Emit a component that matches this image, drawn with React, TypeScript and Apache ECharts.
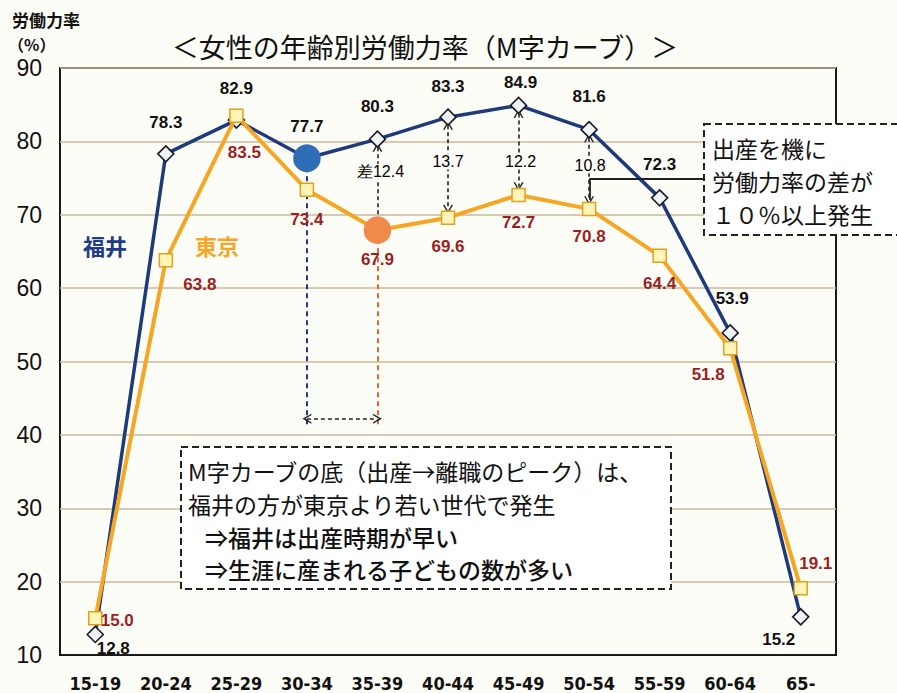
import React, { useEffect, useRef } from "react";
import * as echarts from "echarts";

// ---- data ----
const categories = ["15-19", "20-24", "25-29", "30-34", "35-39", "40-44", "45-49", "50-54", "55-59", "60-64", "65-"];
const fukui = [12.8, 78.3, 82.9, 77.7, 80.3, 83.3, 84.9, 81.6, 72.3, 53.9, 15.2];
const tokyo = [15.0, 63.8, 83.5, 73.4, 67.9, 69.6, 72.7, 70.8, 64.4, 51.8, 19.1];
const yMin = 10;
const yMax = 90;
const yInterval = 10;
const diffIndices = [4, 5, 6, 7];
const diffPrefix = ["差", "", "", ""];
const fukuiBottomIndex = 3;
const tokyoBottomIndex = 4;
const calloutLines = ["出産を機に", "労働力率の差が", "１０％以上発生"];

// ---- annotation geometry (style) ----
const dropEndValue = 41.1;
const gapArrowValue = 42.2;
const arrowGap = 1.1;
const fukuiLabelOffsets = [[18, 14], [0, -31], [0, -32], [0, -32], [0, -33], [0, -31], [2, -23], [0, -33], [0, -33], [2, -34], [-22, 23]];
const tokyoLabelOffsets = [[22, 2], [34, 24], [8, 37], [0, 30], [0, 29], [0, 29], [0, 28], [0, 28], [0, 28], [-22, 26], [15, -25]];
const diffLabelOffsets = [[3, -13], [0, -6], [2, 11], [1, -4]];

const BG = "#fdfdf7";
const NAVY = "#1f3a7a";
const ORANGE = "#f6a623";
const RED_LABEL = "#9c1f1f";
const CJK = '"Noto Sans CJK JP", sans-serif';
const LATIN = '"Liberation Sans", Arial, sans-serif';
const chevron = "path://M0,10 L5,0 L10,10 L8.4,10 L5,3.2 L1.6,10 Z";

export default function App() {
  const ref = useRef<HTMLDivElement>(null);
  useEffect(() => {
    if (!ref.current) return;
    const chart = echarts.init(ref.current, undefined, { renderer: "svg" });

    const fukuiData = fukui.map((v, i) => {
      const item: any = {
        value: v,
        label: { offset: fukuiLabelOffsets[i] },
      };
      if (i === fukuiBottomIndex) {
        item.symbol = "circle";
        item.symbolSize = 26;
        item.itemStyle = { color: "#2f6eb6", borderColor: "#2f6eb6" };
      }
      return item;
    });
    const tokyoData = tokyo.map((v, i) => {
      const item: any = {
        value: v,
        label: { offset: tokyoLabelOffsets[i] },
      };
      if (i === tokyoBottomIndex) {
        item.symbol = "circle";
        item.symbolSize = 26;
        item.itemStyle = { color: "#f08a4b", borderColor: "#f08a4b" };
      }
      return item;
    });

    const dashed = { type: [4, 3] as any, color: "#222", width: 1.6 };
    const diffLines = diffIndices.map((i) => [
      { coord: [categories[i], fukui[i] - arrowGap], lineStyle: dashed },
      { coord: [categories[i], tokyo[i] + arrowGap], lineStyle: dashed },
    ]);
    const navyDrop = { type: [5, 4] as any, color: NAVY, width: 2 };
    const orangeDrop = { type: [5, 4] as any, color: "#e0682c", width: 2 };
    const dropLines = [
      [
        { coord: [categories[fukuiBottomIndex], fukui[fukuiBottomIndex]], symbol: "none", lineStyle: navyDrop },
        { coord: [categories[fukuiBottomIndex], dropEndValue], symbol: "none", lineStyle: navyDrop },
      ],
      [
        { coord: [categories[tokyoBottomIndex], tokyo[tokyoBottomIndex]], symbol: "none", lineStyle: orangeDrop },
        { coord: [categories[tokyoBottomIndex], dropEndValue], symbol: "none", lineStyle: orangeDrop },
      ],
      [
        { coord: [categories[fukuiBottomIndex], gapArrowValue], lineStyle: dashed },
        { coord: [categories[tokyoBottomIndex], gapArrowValue], lineStyle: dashed },
      ],
    ];

    const diffData = diffIndices.map((i, k) => ({
      value: [categories[i], (fukui[i] + tokyo[i]) / 2],
      label: {
        offset: diffLabelOffsets[k],
        formatter: diffPrefix[k] + (fukui[i] - tokyo[i]).toFixed(1),
      },
    }));

    const text = (x: number, y: number, t: string, font: string, fill = "#111", align = "left") => ({
      type: "text",
      x,
      y,
      z: 100,
      style: {
        text: t,
        font,
        fill,
        align,
        textAlign: align,
        verticalAlign: "middle",
        textVerticalAlign: "middle",
      },
    });

    const fmt1 = (p: any) => Number(p.value).toFixed(1);

    chart.setOption({
      animation: false,
      backgroundColor: BG,
      grid: {
        left: 60,
        right: 61,
        top: 68,
        bottom: 38,
        show: true,
        borderColor: "#1a1a1a",
        borderWidth: 2,
        backgroundColor: "transparent",
      },
      xAxis: {
        type: "category",
        data: categories,
        boundaryGap: true,
        axisLine: { show: true, lineStyle: { color: "#1a1a1a", width: 2 } },
        axisTick: { show: false },
        axisLabel: {
          margin: 19,
          color: "#111",
          fontSize: 18,
          fontWeight: "bold",
          fontFamily: '"Liberation Sans Narrow", "DejaVu Sans Condensed", "Liberation Sans", Arial, sans-serif',
        },
      },
      yAxis: {
        type: "value",
        min: yMin,
        max: yMax,
        interval: yInterval,
        axisLine: { show: false },
        axisTick: { show: false },
        axisLabel: { margin: 18, color: "#111", fontSize: 23, fontFamily: LATIN },
        splitLine: { show: true, lineStyle: { color: "#c9b99b", width: 1.5 } },
      },
      series: [
        {
          name: "福井",
          type: "line",
          data: fukuiData,
          z: 3,
          symbol: "diamond",
          symbolSize: 16,
          lineStyle: { color: NAVY, width: 3.5 },
          itemStyle: { color: "#eef5f4", borderColor: "#1a1a2a", borderWidth: 1.6 },
          label: {
            show: true,
            position: "inside",
            formatter: fmt1,
            color: "#111",
            fontSize: 17,
            fontWeight: "bold",
            fontFamily: LATIN,
          },
          markLine: {
            silent: true,
            z: 2,
            symbol: [chevron, chevron],
            symbolSize: [10, 9],
            label: { show: false },
            lineStyle: dashed,
            emphasis: { disabled: true },
            data: [...diffLines, ...dropLines] as any,
          },
        },
        {
          name: "東京",
          type: "line",
          data: tokyoData,
          z: 4,
          symbol: "rect",
          symbolSize: 13,
          lineStyle: { color: ORANGE, width: 4 },
          itemStyle: { color: "#fff5b8", borderColor: "#e2a01a", borderWidth: 1.5 },
          label: {
            show: true,
            position: "inside",
            formatter: fmt1,
            color: RED_LABEL,
            fontSize: 17,
            fontWeight: "bold",
            fontFamily: LATIN,
          },
        },
        {
          name: "差",
          type: "scatter",
          data: diffData,
          z: 6,
          symbolSize: 0,
          silent: true,
          itemStyle: { opacity: 1 },
          label: {
            show: true,
            position: "inside",
            color: "#000",
            opacity: 1,
            fontSize: 16,
            fontWeight: 500,
            fontFamily: LATIN,
            backgroundColor: BG,
            padding: [0, 1],
          },
        },
      ],
      graphic: [
        text(12, 19, "労働力率", `bold 17px ${CJK}`),
        text(8, 44, "（%）", `bold 16px ${CJK}`),
        text(425, 46, "＜女性の年齢別労働力率（M字カーブ）＞", `normal 27px ${CJK}`, "#111", "center"),
        text(83, 245, "福井", `bold 22px ${CJK}`, "#1f3c88"),
        text(195, 245, "東京", `bold 22px ${CJK}`, ORANGE),
        {
          type: "polyline",
          z: 99,
          shape: { points: [[704, 179], [590, 179], [590, 200]] },
          style: { stroke: "#222", lineWidth: 1.8, fill: null },
        },
        {
          type: "rect",
          z: 99,
          shape: { x: 704, y: 124, width: 220, height: 111 },
          style: { fill: "#ffffff", stroke: "#222", lineWidth: 2, lineDash: [7, 4] },
        },
        text(712, 148, calloutLines[0], `normal 23px ${CJK}`),
        text(712, 181, calloutLines[1], `normal 23px ${CJK}`),
        text(712, 214, calloutLines[2], `normal 23px ${CJK}`),
        {
          type: "rect",
          z: 99,
          shape: { x: 181, y: 447, width: 490, height: 142 },
          style: { fill: "#ffffff", stroke: "#222", lineWidth: 2, lineDash: [7, 4] },
        },
        text(188, 471, "M字カーブの底（出産→離職のピーク）は、", `normal 23px ${CJK}`),
        text(188, 504, "福井の方が東京より若い世代で発生", `normal 23px ${CJK}`),
        text(205, 537, "⇒福井は出産時期が早い", `500 23px ${CJK}`),
        text(205, 569, "⇒生涯に産まれる子どもの数が多い", `500 23px ${CJK}`),
      ],
    });
    return () => chart.dispose();
  }, []);
  return <div ref={ref} style={{ position: "fixed", left: 0, top: 0, width: 897, height: 693 }} />;
}
